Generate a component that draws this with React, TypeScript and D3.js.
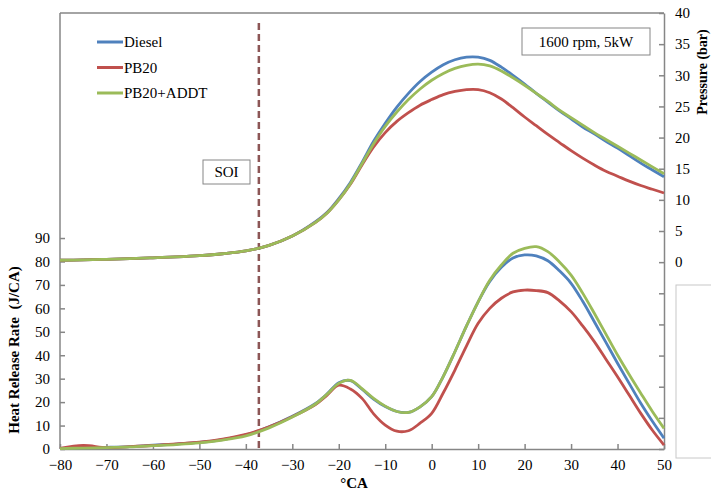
import * as d3 from 'd3';
import { useEffect, useRef } from 'react';

// crank angle grid (°CA)
const CA = [
  -80, -75, -70, -65, -60, -55, -50, -45, -40, -35, -30, -25, -22.5, -20, -17.5, -15, -12.5, -10,
  -7.5, -5, -2.5, 0, 2.5, 5, 7.5, 10, 12.5, 15, 17.5, 20, 22.5, 25, 27.5, 30, 32.5, 35, 37.5, 40,
  42.5, 45, 47.5, 50,
];

// cylinder pressure (bar, right axis)
const P_DIESEL = [
  0.3, 0.35, 0.45, 0.55, 0.7, 0.85, 1.05, 1.35, 1.8, 2.7, 4.2, 6.5, 8.0, 10.2, 12.8, 16.0, 19.4,
  22.3, 24.9, 27.1, 29.0, 30.5, 31.7, 32.5, 32.9, 32.9, 32.4, 31.3, 30.0, 28.6, 27.1, 25.7, 24.3,
  23.0, 21.7, 20.6, 19.4, 18.3, 17.1, 15.9, 14.8, 13.7,
];
const P_PB20 = [
  0.3, 0.35, 0.45, 0.55, 0.7, 0.85, 1.05, 1.35, 1.8, 2.7, 4.2, 6.4, 7.9, 10.0, 12.5, 15.6, 18.5,
  20.8, 22.6, 24.0, 25.2, 26.1, 26.9, 27.4, 27.7, 27.7, 27.2, 26.2, 24.8, 23.3, 21.9, 20.5, 19.2,
  17.9, 16.7, 15.6, 14.6, 13.8, 13.0, 12.3, 11.7, 11.1,
];
const P_ADDT = [
  0.3, 0.35, 0.45, 0.55, 0.7, 0.85, 1.05, 1.35, 1.8, 2.7, 4.2, 6.4, 7.9, 10.0, 12.6, 15.8, 19.0,
  21.8, 24.1, 26.1, 27.8, 29.2, 30.3, 31.1, 31.6, 31.8, 31.5, 30.7, 29.6, 28.4, 27.1, 25.8, 24.4,
  23.2, 22.0, 20.8, 19.7, 18.6, 17.5, 16.4, 15.3, 14.2,
];

// heat release rate (J/CA, left axis)
const H_DIESEL = [
  0.3, 0.5, 0.7, 1.0, 1.6, 2.1, 2.8, 4.0, 6.0, 9.5, 14.0, 19.5, 23.5, 28.3, 29.2, 25.5, 21.3, 18.1,
  16.0, 15.6, 18.0, 22.3, 31.0, 41.5, 52.5, 62.8, 71.5, 77.5, 81.5, 82.8, 82.4, 80.3, 76.0, 70.7,
  63.0, 54.3, 45.5, 36.6, 28.0, 19.5, 11.8, 4.6,
];
const H_PB20 = [
  0.3, 1.5, 0.6, 1.0, 1.5, 2.2, 2.9, 4.2, 6.2, 9.5, 13.8, 19.0, 23.0, 27.2, 25.6, 21.6, 15.0, 10.2,
  7.6, 7.8, 11.0, 15.2, 24.0, 33.7, 44.0, 53.6, 60.0, 64.3, 67.0, 67.8, 67.6, 66.7, 63.2, 58.6,
  52.5, 45.8, 38.3, 30.8, 23.0, 15.2, 8.0, 1.7,
];
const H_ADDT = [
  0.2, 0.4, 0.6, 0.9, 1.4, 1.9, 2.6, 3.8, 5.6, 9.0, 13.6, 19.2, 23.4, 28.0, 29.3, 25.8, 21.6, 18.3,
  16.0, 15.6, 18.0, 22.3, 31.0, 41.5, 52.5, 62.8, 72.0, 78.5, 83.5, 85.6, 86.3, 84.2, 79.8, 74.2,
  66.5, 57.9, 49.0, 40.1, 31.8, 23.8, 16.0, 8.8,
];

const SERIES = [
  { name: 'Diesel', color: '#4f81bd', p: P_DIESEL, h: H_DIESEL },
  { name: 'PB20', color: '#c0504d', p: P_PB20, h: H_PB20 },
  { name: 'PB20+ADDT', color: '#9bbb59', p: P_ADDT, h: H_ADDT },
];

const X_TICKS = d3.range(-80, 51, 10);
const H_TICKS = d3.range(0, 91, 10);
const P_TICKS = d3.range(-30, 41, 5);
const SOI_CA = -37.2;

const FONT = "'Liberation Serif', 'Times New Roman', serif";
const AXIS = '#868686';

export default function App() {
  const svgRef = useRef<SVGSVGElement>(null);

  useEffect(() => {
    if (!svgRef.current) return;
    const svg = d3.select(svgRef.current);
    svg.selectAll('*').remove();

    const left = 60, right = 664, top = 13, bottom = 449;
    const x = d3.scaleLinear().domain([-80, 50]).range([left, right]);
    const yH = d3.scaleLinear().domain([0, 186]).range([bottom, top]);
    const yP = d3.scaleLinear().domain([-30, 40]).range([bottom, top]);

    svg.append('rect').attr('width', 711).attr('height', 491).attr('fill', '#fff');

    // frame top
    svg.append('line')
      .attr('x1', left).attr('x2', right).attr('y1', top).attr('y2', top)
      .attr('stroke', AXIS).attr('stroke-width', 1.5);

    const style = (g: d3.Selection<SVGGElement, unknown, null, undefined>) => {
      g.attr('font-family', null).attr('font-size', null);
      g.selectAll('.domain').attr('stroke', AXIS).attr('stroke-width', 1.5);
      g.selectAll('.tick line').attr('stroke', AXIS).attr('stroke-width', 1.5);
      g.selectAll('text').style('font-family', FONT).style('font-size', '15px').attr('fill', '#000');
    };

    // x axis, ticks inward
    const gx = svg.append('g')
      .attr('transform', `translate(0,${bottom})`)
      .call(d3.axisBottom(x).tickValues(X_TICKS).tickSizeInner(-5).tickSizeOuter(0).tickPadding(10).tickFormat(d3.format('d')));
    style(gx);

    // left axis (HRR)
    const gl = svg.append('g')
      .attr('transform', `translate(${left},0)`)
      .call(d3.axisLeft(yH).tickValues(H_TICKS).tickSizeInner(-5).tickSizeOuter(0).tickPadding(10));
    style(gl);
    gl.select('.domain').attr('d', `M0,${top}V${bottom}`);

    // right axis (pressure), labels only from 0 up
    const gr = svg.append('g')
      .attr('transform', `translate(${right},0)`)
      .call(d3.axisRight(yP).tickValues(P_TICKS).tickSizeInner(-5).tickSizeOuter(0).tickPadding(11)
        .tickFormat((d) => ((d as number) >= 0 ? String(d) : '')));
    style(gr);

    // SOI line
    svg.append('line')
      .attr('x1', x(SOI_CA)).attr('x2', x(SOI_CA)).attr('y1', 23).attr('y2', bottom)
      .attr('stroke', '#8c5656').attr('stroke-width', 2.5).attr('stroke-dasharray', '7,4');

    // curves
    for (const s of SERIES) {
      const lineP = d3.line<number>().x((_, i) => x(CA[i])).y((d) => yP(d)).curve(d3.curveCatmullRom);
      const lineH = d3.line<number>().x((_, i) => x(CA[i])).y((d) => yH(d)).curve(d3.curveCatmullRom);
      svg.append('path').datum(s.p).attr('d', lineP).attr('fill', 'none')
        .attr('stroke', s.color).attr('stroke-width', 2.8);
      svg.append('path').datum(s.h).attr('d', lineH).attr('fill', 'none')
        .attr('stroke', s.color).attr('stroke-width', 2.8);
    }

    // legend
    SERIES.forEach((s, i) => {
      const yy = 42 + i * 25.5;
      svg.append('line').attr('x1', 97).attr('x2', 123).attr('y1', yy).attr('y2', yy)
        .attr('stroke', s.color).attr('stroke-width', 3);
      svg.append('text').attr('x', 124).attr('y', yy + 5).text(s.name)
        .style('font-family', FONT).style('font-size', '15px');
    });

    // annotation boxes
    const box = (x0: number, y0: number, w: number, h: number, label: string) => {
      svg.append('rect').attr('x', x0).attr('y', y0).attr('width', w).attr('height', h)
        .attr('fill', '#fff').attr('stroke', AXIS).attr('stroke-width', 1);
      svg.append('text').attr('x', x0 + w / 2).attr('y', y0 + h / 2 + 5).attr('text-anchor', 'middle')
        .style('font-family', FONT).style('font-size', '15px').text(label);
    };
    box(203, 160, 47, 24, 'SOI');
    box(522, 28, 128, 27, '1600 rpm, 5kW');

    // stray empty box at right edge
    svg.append('rect').attr('x', 676).attr('y', 285).attr('width', 60).attr('height', 173)
      .attr('fill', '#fff').attr('stroke', '#c8c8c8').attr('stroke-width', 1);

    // axis titles
    svg.append('text').attr('x', 354).attr('y', 488).attr('text-anchor', 'middle')
      .style('font-family', FONT).style('font-size', '15px').attr('font-weight', 'bold').text('°CA');
    svg.append('text').attr('transform', 'translate(19,350) rotate(-90)').attr('text-anchor', 'middle')
      .style('font-family', FONT).style('font-size', '15px').attr('font-weight', 'bold')
      .style('white-space', 'pre').text('Heat Release Rate  (J/CA)');
    svg.append('text').attr('transform', 'translate(707,72) rotate(-90)').attr('text-anchor', 'middle')
      .style('font-family', FONT).style('font-size', '14px').attr('font-weight', 'bold').text('Pressure (bar)');
  }, []);

  return (
    <svg
      ref={svgRef}
      width={711}
      height={491}
      style={{ position: 'fixed', left: 0, top: 0, display: 'block' }}
    />
  );
}
